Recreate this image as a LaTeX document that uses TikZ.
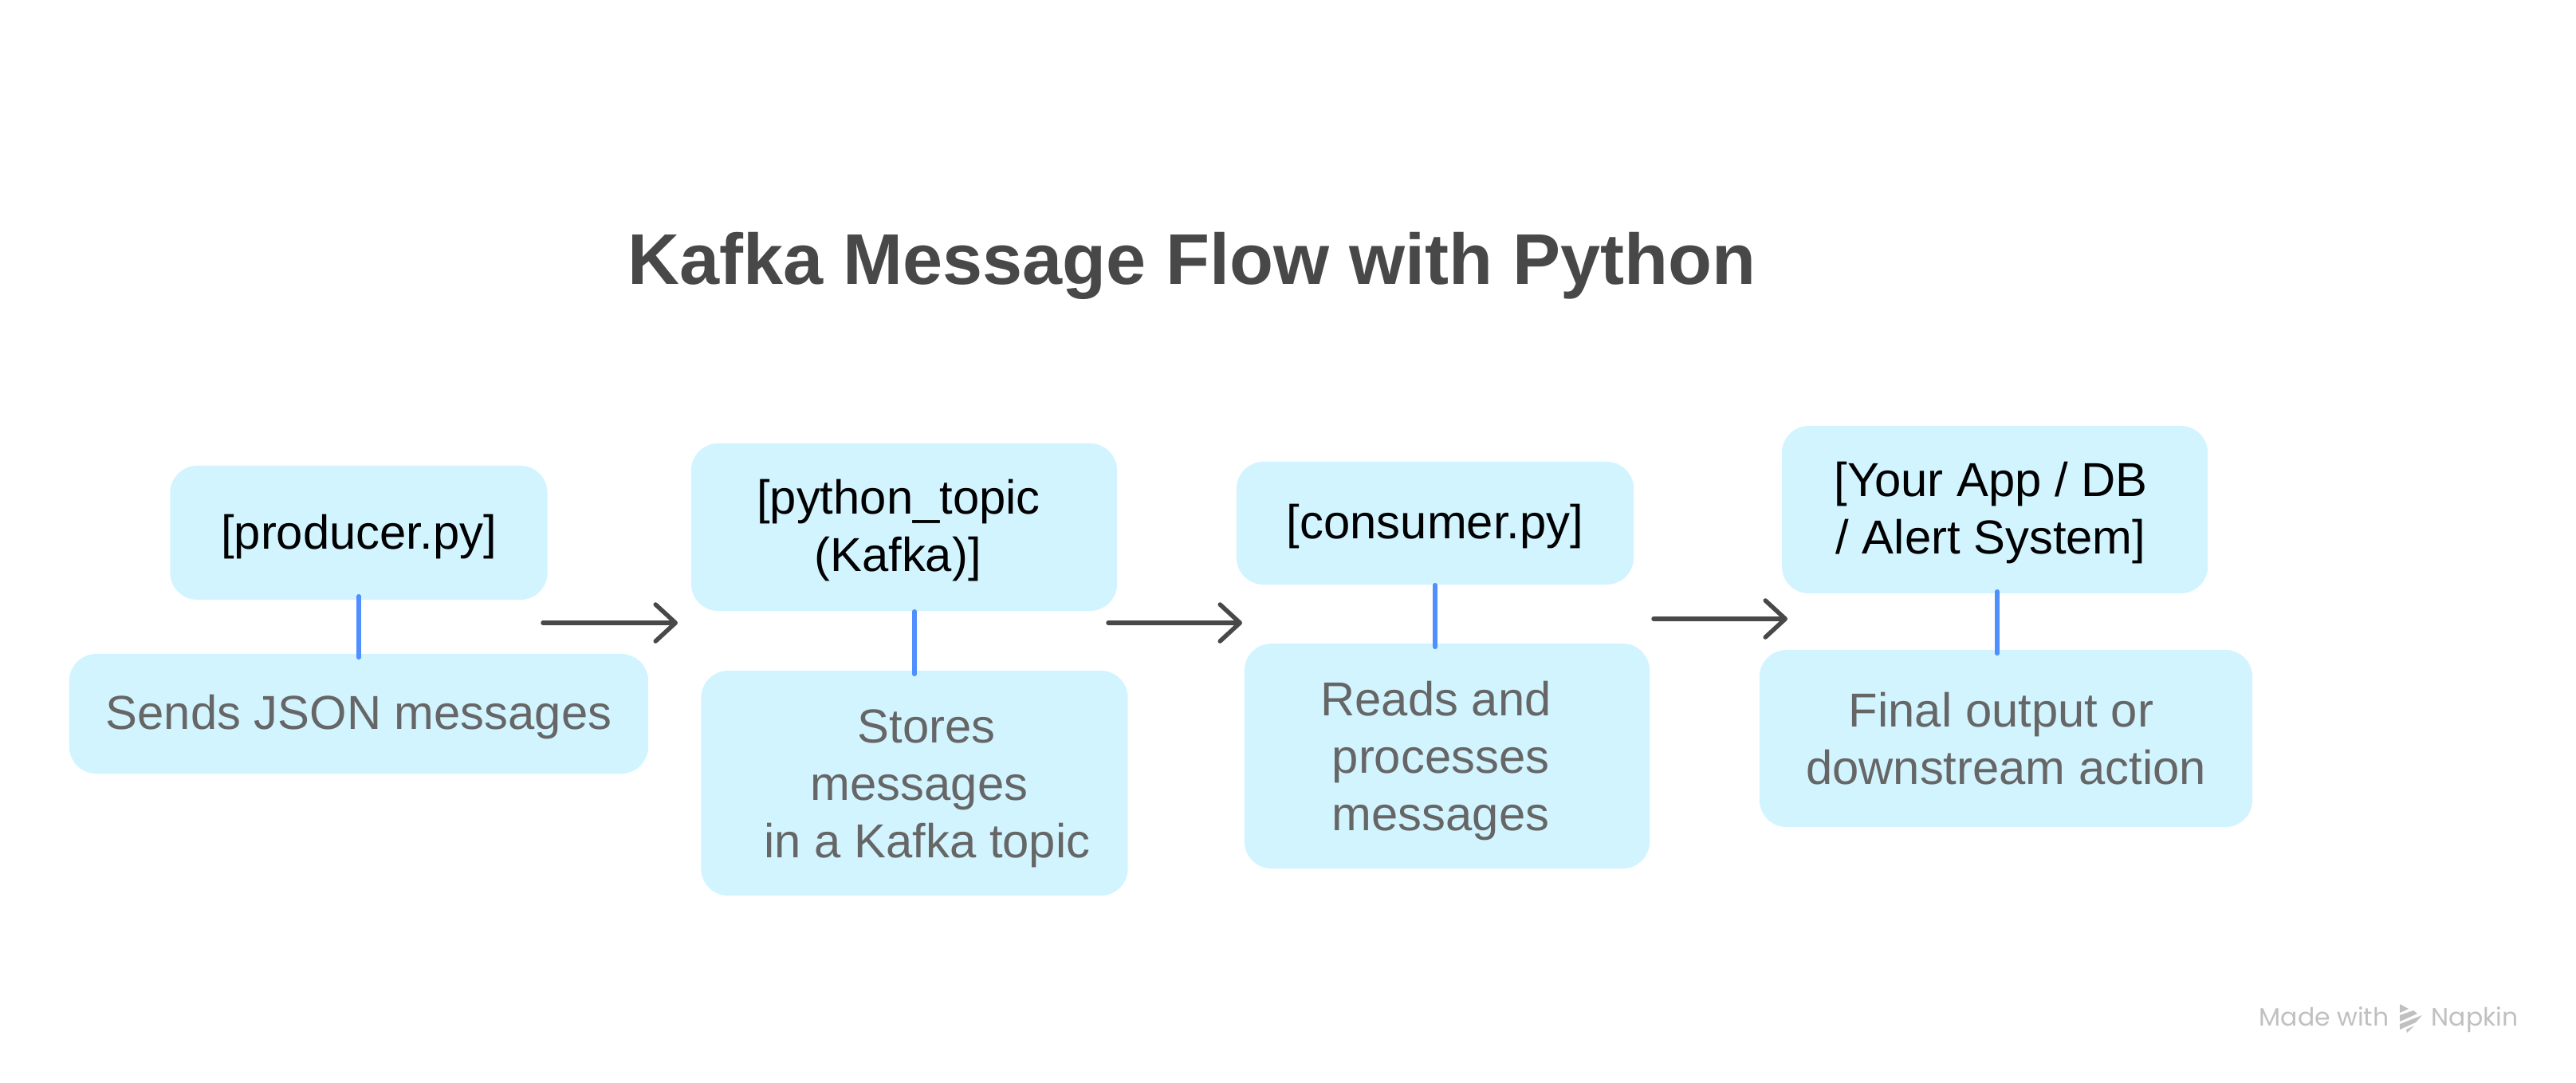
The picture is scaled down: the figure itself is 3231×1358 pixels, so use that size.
\documentclass[tikz,border=0pt]{standalone}
\usepackage{fontspec}
\setmainfont{Liberation Sans}
\newfontfamily\markfont{Poppins}
\usetikzlibrary{arrows.meta,positioning}
\definecolor{boxblue}{HTML}{D1F4FF}
\definecolor{notegray}{HTML}{666666}
\definecolor{inkgray}{HTML}{484848}
\definecolor{linkblue}{HTML}{4F8FFF}
\definecolor{markgray}{HTML}{C0C0C0}

\begin{document}
\begin{tikzpicture}[
    x=0.01cm,
    y=-0.01cm,
    every node/.style={font=\fontsize{17pt}{20.5pt}\selectfont, inner sep=0pt},
    compbox/.style={fill=boxblue, rounded corners=0.34cm, align=flush center, text=black},
    notebox/.style={compbox, text=notegray},
    dropped/.style={execute at begin node={\rule{0pt}{#1}}},
    heading/.style={font=\fontsize{25.6pt}{30pt}\selectfont\bfseries, text=inkgray},
    link/.style={draw=linkblue, line width=0.055cm, line cap=round},
    flow/.style={-{Straight Barb[length=0.25cm, width=0.46cm, line cap=round, line join=round]}, draw=inkgray,
      line width=0.055cm, line cap=round},
    maker/.style={font=\fontsize{8.95pt}{11pt}\selectfont\markfont, text=markgray},
    makerpart/.style={fill=markgray}
  ]
    \useasboundingbox (0,0) rectangle (3231,1358);

    \node[heading] (title) at (1495,333) {Kafka Message Flow with Python};

    % Top row of boxes.
    \node[compbox, dropped=5.4mm, minimum width=4.73cm, minimum height=1.68cm, text width=4.73cm] (producer) at (450,668)
      {[producer.py]};
    \node[compbox, dropped=5.2mm, minimum width=5.34cm, minimum height=2.10cm, text width=5.34cm] (python) at (1134,661)
      {\hspace*{-1.4mm}[python\_topic\\\hspace*{-1.6mm}(Kafka)]};
    \node[compbox, dropped=5.2mm, minimum width=4.98cm, minimum height=1.54cm, text width=4.98cm] (consumer) at (1800,656)
      {[consumer.py]};
    \node[compbox, dropped=5.2mm, minimum width=5.34cm, minimum height=2.10cm, text width=5.34cm] (sink) at (2502,639)
      {\hspace*{-1mm}[Your App / DB\\\hspace*{-1mm}/ Alert System]};

    % Bottom row of boxes.
    \node[notebox, dropped=5.2mm, minimum width=7.26cm, minimum height=1.50cm, text width=7.26cm] (sends) at (450,895)
      {Sends JSON messages};
    \node[notebox, dropped=5.6mm, minimum width=5.35cm, minimum height=2.82cm, text width=5.35cm] (stores) at (1147,982)
      {\hspace*{3mm}Stores\\\hspace*{1.2mm}messages\\\hspace*{3.2mm}in a Kafka topic};
    \node[notebox, dropped=5.6mm, minimum width=5.08cm, minimum height=2.82cm, text width=5.08cm] (reads) at (1815,948)
      {\hspace*{-2.8mm}Reads and\\\hspace*{-1.6mm}processes\\\hspace*{-1.6mm}messages};
    \node[notebox, minimum width=6.18cm, minimum height=2.22cm, text width=6.18cm] (final) at (2516,926)
      {\hspace*{-1.2mm}Final output or\\downstream action};

    % Blue stems.
    \draw[link, shorten <=-0.05cm, shorten >=-0.05cm] (producer.south) -- (sends.north);
    \draw[link, shorten >=-0.05cm] (python.south -| stores.north) -- (stores.north);
    \draw[link, shorten >=-0.05cm] (consumer.south) -- (consumer.south |- reads.north);
    \draw[link, shorten <=-0.03cm, shorten >=-0.05cm] ([xshift=0.03cm]sink.south) -- ([xshift=0.03cm]sink.south |- final.north);

    % Arrows between the columns.
    \foreach \n/\xa/\xb/\y in {a/681/850/781, b/1390/1558/781, c/2074/2242/776} {
      \coordinate (flow\n start) at (\xa,\y);
      \coordinate (flow\n end) at (\xb,\y);
      \draw[flow] (flow\n start) -- (flow\n end);
    }

    % Watermark.
    \node[maker, anchor=base west] (madewith) at (2833,1286) {Made with};
    \node[maker, anchor=base west] (napkin) at (3049,1286) {Napkin};
    \fill[makerpart] (3010,1259) -- (3021,1265) -- (3010,1270) -- cycle;
    \fill[makerpart] (3010,1273) -- (3027,1267) -- (3032,1271) -- (3010,1281) -- cycle;
    \fill[makerpart] (3010,1284) -- (3038,1273) -- (3030,1282) -- (3010,1291) -- cycle;
    \fill[makerpart] (3018,1291) -- (3028,1286) -- (3019,1295) -- cycle;
\end{tikzpicture}
\end{document}
